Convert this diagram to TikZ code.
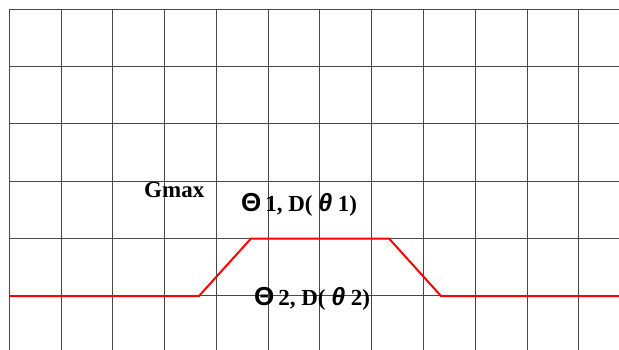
\documentclass[tikz,border=0pt]{standalone}
\usepackage{fontspec}
\setmainfont{Liberation Serif}
\newfontfamily\grsans{Liberation Sans}
\usetikzlibrary{positioning}

\newcommand{\bigTh}{{\grsans\fontsize{26}{28}\selectfont Θ}}
\newcommand{\smTh}{{\grsans\itshape\fontsize{25}{28}\selectfont θ}}

\begin{document}
\begin{tikzpicture}[
  x=1pt, y=-1pt,
  gridline/.style={draw=black!72, line width=0.8pt},
  curve/.style={draw=red, line width=2pt, line join=miter},
  lbl/.style={anchor=base west, inner sep=0pt, font=\bfseries\fontsize{23}{26}\selectfont}
]
\useasboundingbox (0,0) rectangle (619,350);
% grid
\foreach \k in {0,...,11}
  \draw[gridline] (9.3+51.76*\k,9.3) -- (9.3+51.76*\k,350);
\foreach \k in {0,...,5}
  \draw[gridline] (9.3,9.3+57.3*\k) -- (619,9.3+57.3*\k);
% gain curve
\coordinate (s) at (9.3,296);
\coordinate (r1) at (199,296);
\coordinate (t1) at (251,238.5);
\coordinate (t2) at (389,238.5);
\coordinate (r2) at (441,296);
\coordinate (e) at (619,296);
\draw[curve] (s) -- (r1) -- (t1) -- (t2) -- (r2) -- (e);
% labels
\node[lbl] (gmax) at (144,197) {Gmax};
\node[lbl] (th1) at (241,211.5) {\bigTh\,1, D( \smTh\ 1)};
\node[lbl] (th2) at (254,305) {\bigTh\,2, D( \smTh\ 2)};
\end{tikzpicture}
\end{document}
